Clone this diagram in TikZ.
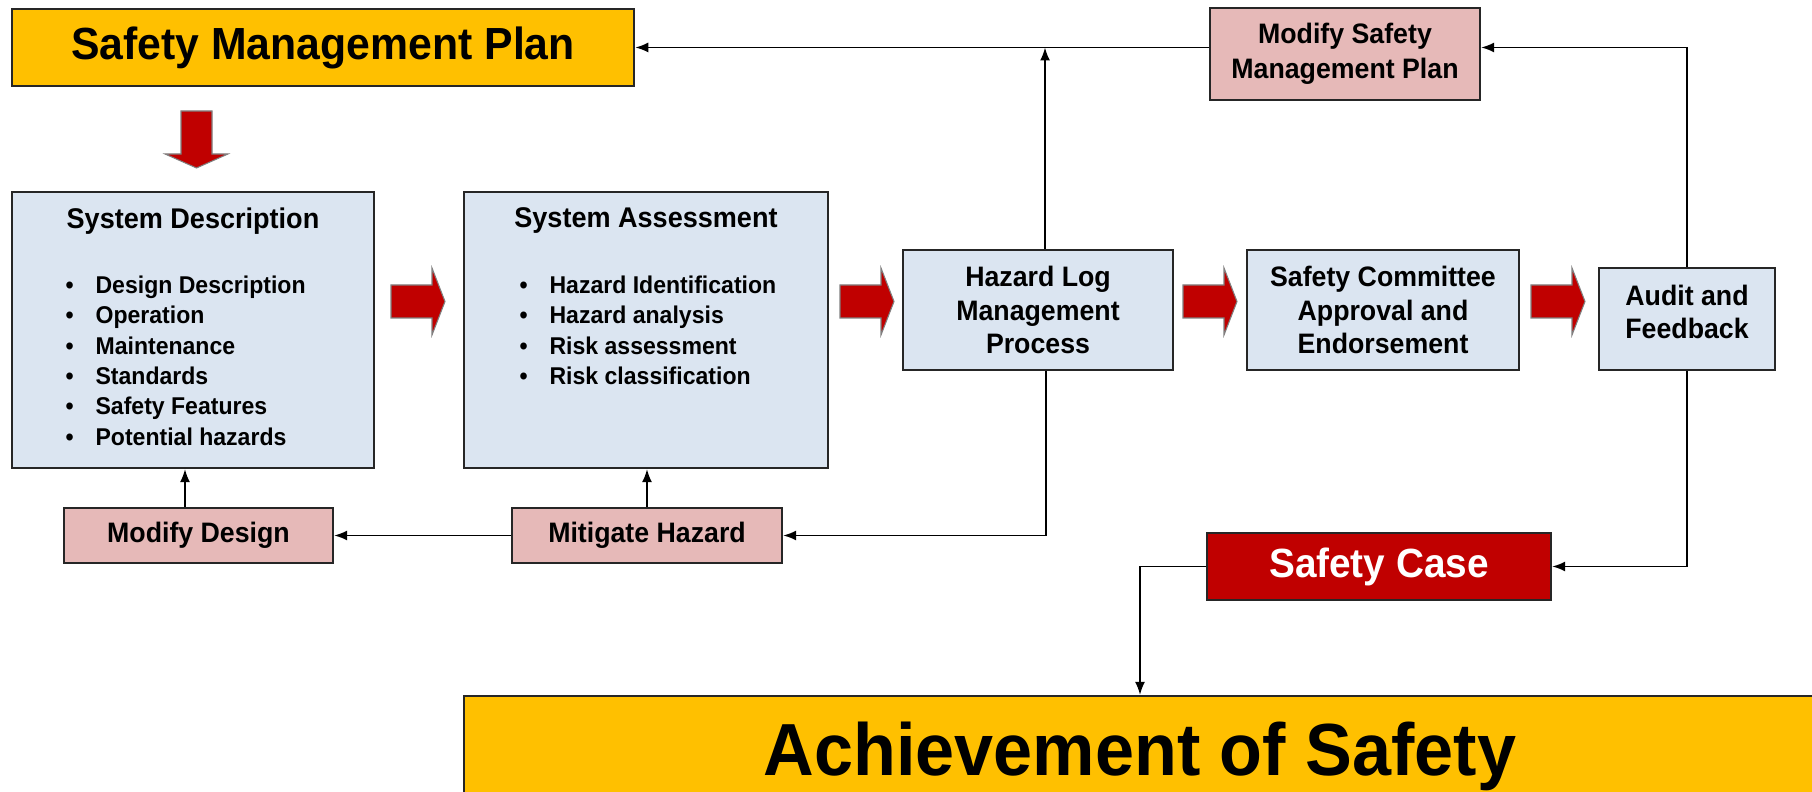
\documentclass[tikz,border=0pt]{standalone}
\usepackage{fontspec}
\setmainfont{Liberation Sans}[FakeStretch=0.95]
\usetikzlibrary{positioning,calc,arrows.meta}
\definecolor{planyellow}{HTML}{FFC000}
\definecolor{stepblue}{HTML}{DBE5F1}
\definecolor{fixpink}{HTML}{E6B9B8}
\definecolor{casered}{HTML}{C00000}

\begin{document}
\begin{tikzpicture}[x=0.01cm,y=-0.01cm,
    box/.style={draw=black!85,line width=0.6pt,inner sep=0pt,align=center,font=\bfseries\fontsize{8}{9.4}\selectfont},
    bluebox/.style={box,fill=stepblue},
    pinkbox/.style={box,fill=fixpink},
    yellowbox/.style={box,fill=planyellow},
    boxtitle/.style={inner sep=0pt,align=center,font=\bfseries\fontsize{8.1}{9.4}\selectfont},
    itemlist/.style={inner sep=0pt,align=left,font=\bfseries\fontsize{6.9}{8.65}\selectfont},
    link/.style={draw,line width=0.5pt,-{Latex[length=1.3mm,width=1mm]}},
    bigarrow/.style={fill=casered,draw=black!50,line width=0.3pt}]

    \useasboundingbox (0,0) rectangle (1812,792);

    \node[yellowbox,minimum width=6.22cm,minimum height=0.77cm,font=\bfseries\fontsize{12.8}{15}\selectfont] (smp) at (323,47.5) {Safety Management Plan};
    \node[pinkbox,minimum width=2.70cm,minimum height=0.92cm,font=\bfseries\fontsize{8}{10}\selectfont] (msmp) at (1345,54) {Modify Safety\\Management Plan};

    \node[bluebox,minimum width=3.62cm,minimum height=2.76cm] (sd) at (193,330) {};
    \node[boxtitle,below=0.16cm of sd.north] (sdtitle) {System Description};
    \node[itemlist,below right=0.84cm and 0.54cm of sd.north west] (sdlist) {%
        \makebox[0.3cm][l]{\textbullet}Design Description\\
        \makebox[0.3cm][l]{\textbullet}Operation\\
        \makebox[0.3cm][l]{\textbullet}Maintenance\\
        \makebox[0.3cm][l]{\textbullet}Standards\\
        \makebox[0.3cm][l]{\textbullet}Safety Features\\
        \makebox[0.3cm][l]{\textbullet}Potential hazards};

    \node[bluebox,minimum width=3.64cm,minimum height=2.76cm] (sa) at (646,330) {};
    \node[boxtitle,below=0.16cm of sa.north] (satitle) {System Assessment};
    \node[itemlist,below right=0.84cm and 0.56cm of sa.north west] (salist) {%
        \makebox[0.3cm][l]{\textbullet}Hazard Identification\\
        \makebox[0.3cm][l]{\textbullet}Hazard analysis\\
        \makebox[0.3cm][l]{\textbullet}Risk assessment\\
        \makebox[0.3cm][l]{\textbullet}Risk classification};

    \node[bluebox,minimum width=2.70cm,minimum height=1.20cm] (hl) at (1038,310) {Hazard Log\\Management\\Process};
    \node[bluebox,minimum width=2.72cm,minimum height=1.20cm] (comm) at (1383,310) {Safety Committee\\Approval and\\Endorsement};
    \node[bluebox,minimum width=1.76cm,minimum height=1.02cm] (audit) at (1687,319) {};
    \node[boxtitle,font=\bfseries\fontsize{8}{9.4}\selectfont] (audittext) at (1687,311.5) {Audit and\\Feedback};

    \node[pinkbox,minimum width=2.69cm,minimum height=0.55cm] (md) at (198.5,535.5) {Modify Design};
    \node[pinkbox,minimum width=2.70cm,minimum height=0.55cm] (mh) at (647,535.5) {Mitigate Hazard};

    \node[box,fill=casered,text=white,minimum width=3.44cm,minimum height=0.67cm,font=\bfseries\fontsize{11.6}{14}\selectfont] (case) at (1379,566.5) {Safety Case};
    \node[yellowbox,minimum width=13.51cm,minimum height=1.20cm,font=\bfseries\fontsize{21}{25}\selectfont] (goal) at (1140,756) {Achievement of Safety};

    % block arrows
    \filldraw[bigarrow] (181,111) -- (212,111) -- (212,154) -- (228,154) -- (196.5,168) -- (165,154) -- (181,154) -- cycle;
    \foreach \x in {391,840,1183,1531}
        \filldraw[bigarrow,shift={(\x,301.5)}] (0,-16.5) -- (41,-16.5) -- (41,-33.5) -- (54,0) -- (41,33.5) -- (41,16.5) -- (0,16.5) -- cycle;

    % feedback lines
    \draw[link] (msmp.west |- smp.east) -- (smp.east);
    \draw[link] ([xshift=0.07cm]hl.north) -- ([xshift=0.07cm]hl.north |- smp.east);
    \draw[link] (audit.north) |- (msmp.east |- smp.east);
    \draw[link] ([xshift=0.08cm]hl.south) |- (mh.east);
    \draw[link] (mh.west) -- (md.east);
    \draw[link] ([xshift=-0.135cm]md.north) -- ([xshift=-0.135cm]md.north |- sd.south);
    \draw[link] (mh.north) -- (mh.north |- sa.south);
    \draw[link] (audit.south) |- (case.east);
    \draw[link] (case.west) -| (goal.north);
\end{tikzpicture}
\end{document}
